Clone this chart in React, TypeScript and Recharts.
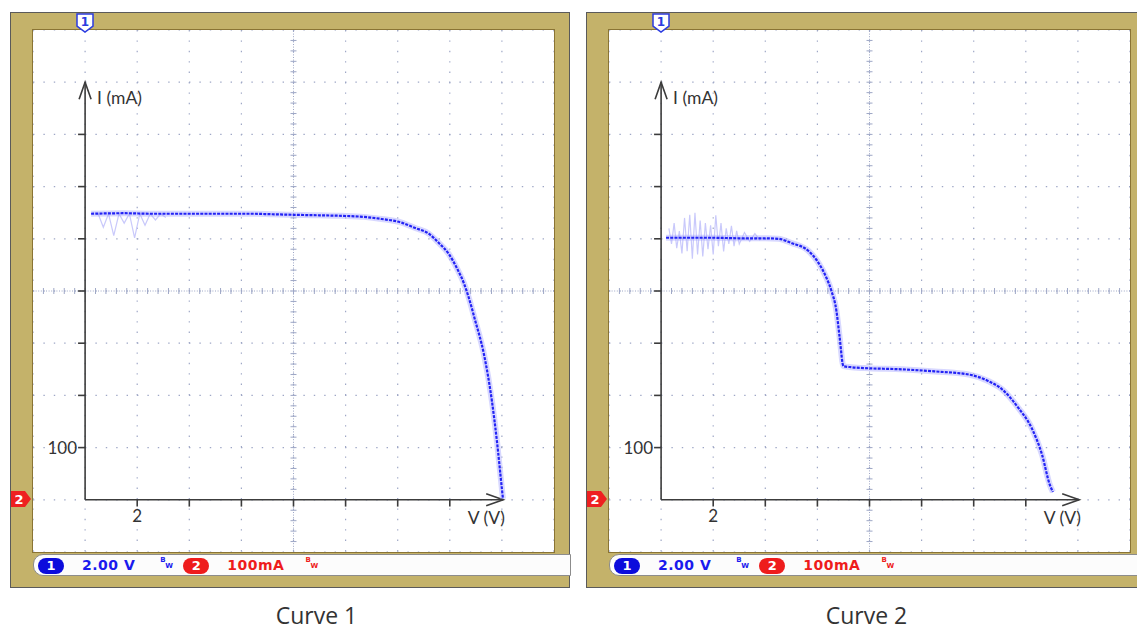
import React from 'react';
import { LineChart, Line, XAxis, YAxis, CartesianGrid, ReferenceLine, ReferenceDot } from 'recharts';

// Curve 1: voltage (V) and current (mA)
const curve1V = [0.23, 1.5, 2.54, 3.5, 4.46, 5.4, 6.38, 7.2, 8.0, 9.0, 9.85, 10.7, 11.38, 12.15, 12.65, 13.19, 13.58, 13.96, 14.27, 14.54, 14.73, 14.96, 15.31, 15.62, 15.81, 16.0, 16.04];
const curve1I = [548, 549, 548, 548, 548, 548, 548, 547, 546, 545, 544, 542, 538, 531, 521, 510, 492, 471, 444, 415, 387, 346, 279, 188, 112, 21, 2];
const noise1V = [0.5, 0.7, 0.9, 1.1, 1.3, 1.5, 1.7, 1.9, 2.1, 2.3, 2.5, 2.7, 2.9, 3.1];
const noise1I = [548, 522, 548, 506, 548, 530, 548, 502, 548, 526, 548, 536, 548, 541];

// Curve 2
const curve2V = [0.19, 1.0, 2.0, 3.0, 4.0, 4.5, 5.0, 5.65, 6.04, 6.35, 6.54, 6.73, 6.85, 7.0, 7.31, 7.96, 9.23, 10.5, 11.81, 12.58, 13.08, 13.73, 14.23, 14.62, 14.92, 15.04];
const curve2I = [502, 502, 502, 501, 501, 500, 492, 477, 454, 425, 400, 362, 313, 256, 254, 252, 250, 246, 240, 227, 212, 175, 137, 87, 29, 15];
const noise2V = [0.3, 0.4, 0.5, 0.6, 0.7, 0.8, 0.9, 1.0, 1.1, 1.2, 1.3, 1.4, 1.5, 1.6, 1.7, 1.8, 1.9, 2.0, 2.1, 2.2, 2.3, 2.4, 2.5, 2.6, 2.7, 2.8, 2.9, 3.0, 3.2, 3.4, 3.6, 3.8];
const noise2I = [520, 490, 530, 482, 515, 472, 540, 476, 546, 462, 550, 470, 535, 466, 530, 480, 526, 470, 545, 486, 530, 476, 520, 490, 525, 486, 515, 490, 512, 495, 510, 497];

// graticule: 2 V/div, 100 mA/div
const gridV = [-2, 0, 2, 4, 6, 8, 10, 12, 14, 16, 18];
const gridI = [-100, 0, 100, 200, 300, 400, 500, 600, 700, 800, 900];
const xTicks = [2, 4, 6, 8, 10, 12, 14];
const yTicks = [100, 200, 300, 400, 500, 600, 700];

const toRows = (vs: number[], is: number[]) => vs.map((v, k) => ({ v, i: is[k] }));

const AXIS = '#3c3c3c';
const DOT = '#9ea7c6';

const ArrowShape = (p: any) => {
  const { x1, y1, x2, y2 } = p;
  const dx = x2 - x1, dy = y2 - y1;
  const len = Math.hypot(dx, dy) || 1;
  const ux = dx / len, uy = dy / len;
  const bx = x2 - ux * 17, by = y2 - uy * 17;
  const px = -uy * 6, py = ux * 6;
  return (
    <g>
      <line x1={x1} y1={y1} x2={x2} y2={y2} stroke={AXIS} strokeWidth={1.6} />
      <polyline points={`${bx + px},${by + py} ${x2},${y2} ${bx - px},${by - py}`} fill="none" stroke={AXIS} strokeWidth={1.6} />
    </g>
  );
};

const CenterLine = (p: any) => {
  const { x1, y1, x2, y2 } = p;
  const vertical = Math.abs(x2 - x1) < 0.5;
  const a = vertical ? Math.min(y1, y2) : Math.min(x1, x2);
  const b = vertical ? Math.max(y1, y2) : Math.max(x1, x2);
  const step = (b - a) / 50;
  const marks = [];
  for (let k = 1; k < 50; k++) {
    const t = a + k * step;
    marks.push(vertical
      ? <line key={k} x1={x1 - 3} x2={x1 + 3} y1={t} y2={t} stroke={DOT} strokeWidth={1} />
      : <line key={k} x1={t} x2={t} y1={y1 - 3} y2={y1 + 3} stroke={DOT} strokeWidth={1} />);
  }
  return (
    <g>
      <line x1={x1} y1={y1} x2={x2} y2={y2} stroke={DOT} strokeWidth={1} strokeDasharray="1 1.6" />
      {marks}
    </g>
  );
};

const BW = ({ color }: { color: string }) => (
  <span style={{ position: 'relative', display: 'inline-block', width: 11, height: 16, color, fontSize: 7, lineHeight: '7px', fontFamily: 'DejaVu Sans', fontWeight: 'bold' }}>
    <span style={{ position: 'absolute', left: 0, top: 2 }}>B</span>
    <span style={{ position: 'absolute', left: 5, top: 8 }}>W</span>
  </span>
);

const Pill = ({ n, fill }: { n: string; fill: string }) => (
  <span style={{ display: 'inline-block', width: 26, height: 16, borderRadius: 8, background: fill, color: '#fff', fontFamily: 'DejaVu Sans', fontWeight: 'bold', fontSize: 13, lineHeight: '16px', textAlign: 'center' }}>{n}</span>
);

type PanelProps = {
  left: number;
  width: number;
  curve: { v: number; i: number }[];
  noise: { v: number; i: number }[];
  caption: string;
  captionCenter: number;
};

const Panel = ({ left, width, curve, noise, caption, captionCenter }: PanelProps) => (
  <>
    <div style={{ position: 'absolute', left, top: 12, width, height: 576, background: '#c4b26a', border: '1.5px solid #5a5a5a', boxSizing: 'border-box' }}>
      <div style={{ position: 'absolute', left: 21, top: 16, width: 523, height: 524, background: '#fff', border: '1px solid #8a7434', boxSizing: 'border-box' }}>
        <LineChart width={521} height={522} margin={{ top: 0, right: 0, bottom: 0, left: 0 }}>
          <XAxis type="number" dataKey="v" domain={[-2, 18]} ticks={gridV} hide allowDataOverflow />
          <YAxis type="number" domain={[-100, 900]} ticks={gridI} hide allowDataOverflow />
          <CartesianGrid stroke={DOT} strokeWidth={1.2} strokeDasharray="1.4 9" />
          <ReferenceLine x={8} shape={CenterLine} />
          <ReferenceLine y={400} shape={CenterLine} />
          <ReferenceLine segment={[{ x: 0, y: 0 }, { x: 0, y: 800 }]} shape={ArrowShape} />
          <ReferenceLine segment={[{ x: 0, y: 0 }, { x: 16.05, y: 0 }]} shape={ArrowShape} />
          {yTicks.map((t) => (
            <ReferenceLine key={`y${t}`} segment={[{ x: 0, y: t }, { x: -0.27, y: t }]} stroke={AXIS} strokeWidth={1.6} />
          ))}
          {xTicks.map((t) => (
            <ReferenceLine key={`x${t}`} segment={[{ x: t, y: 0 }, { x: t, y: -13 }]} stroke={AXIS} strokeWidth={1.6} />
          ))}
          <ReferenceDot x={0} y={770} r={0} label={{ value: 'I (mA)', position: 'right', offset: 12, fill: '#333', fontSize: 17.5, fontFamily: 'Lato' }} />
          <ReferenceDot x={0} y={100} r={0} label={{ value: '100', position: 'left', offset: 8, fill: '#333', fontSize: 17, fontFamily: 'Lato' }} />
          <ReferenceDot x={2} y={0} r={0} label={{ value: '2', position: 'bottom', offset: 10, fill: '#333', fontSize: 17, fontFamily: 'Lato' }} />
          <ReferenceDot x={15.4} y={0} r={0} label={{ value: 'V (V)', position: 'bottom', offset: 12, fill: '#333', fontSize: 17.5, fontFamily: 'Lato' }} />
          <Line data={noise} dataKey="i" type="linear" stroke="#c9c9fb" strokeWidth={1.2} dot={false} isAnimationActive={false} />
          <Line data={curve} dataKey="i" type="monotone" stroke="#a9a9ff" strokeOpacity={0.45} strokeWidth={6} dot={false} isAnimationActive={false} />
          <Line data={curve} dataKey="i" type="monotone" stroke="#2323f5" strokeWidth={2.2} strokeDasharray="3 1.2" dot={false} isAnimationActive={false} />
        </LineChart>
      </div>
      {/* channel 1 marker */}
      <svg style={{ position: 'absolute', left: 64, top: 0 }} width={20} height={21}>
        <path d="M2,1 H18 V13 L10,19 L2,13 Z" fill="#fff" stroke="#2b3be0" strokeWidth={1.5} />
        <text x={10} y={13} textAnchor="middle" fill="#2b3be0" fontSize={12} fontWeight="bold" fontFamily="DejaVu Sans">1</text>
      </svg>
      {/* channel 2 marker */}
      <svg style={{ position: 'absolute', left: -1, top: 476 }} width={24} height={20}>
        <path d="M1,2 H15 L21,10 L15,18 H1 Z" fill="#ee2020" />
        <text x={9} y={15} textAnchor="middle" fill="#fff" fontSize={13} fontWeight="bold" fontFamily="DejaVu Sans">2</text>
      </svg>
      {/* status bar */}
      <div style={{ position: 'absolute', left: 22, top: 541, right: -2, height: 22, background: '#fcfcfc', border: '1px solid #8c8c8c', borderRadius: '10px 0 0 10px', boxSizing: 'border-box', display: 'flex', alignItems: 'center', whiteSpace: 'nowrap' }}>
        <span style={{ marginLeft: 4 }}><Pill n="1" fill="#0c0cdc" /></span>
        <span style={{ marginLeft: 18, color: '#1a1aee', fontFamily: 'DejaVu Sans', fontWeight: 'bold', fontSize: 14, letterSpacing: 0.5 }}>2.00 V</span>
        <span style={{ marginLeft: 25 }}><BW color="#1a1aee" /></span>
        <span style={{ marginLeft: 12 }}><Pill n="2" fill="#ee1c1c" /></span>
        <span style={{ marginLeft: 18, color: '#ee1c1c', fontFamily: 'DejaVu Sans', fontWeight: 'bold', fontSize: 14, letterSpacing: 0.5 }}>100mA</span>
        <span style={{ marginLeft: 21 }}><BW color="#ee1c1c" /></span>
      </div>
    </div>
    <div style={{ position: 'absolute', left: captionCenter - 100, top: 599, width: 200, textAlign: 'center', fontFamily: 'Open Sans', fontSize: 23, color: '#333' }}>{caption}</div>
  </>
);

export default function App() {
  return (
    <div style={{ position: 'absolute', left: 0, top: 0, width: 1137, height: 631, background: '#fff', overflow: 'hidden' }}>
      <Panel left={10} width={560} curve={toRows(curve1V, curve1I)} noise={toRows(noise1V, noise1I)} caption="Curve 1" captionCenter={316.5} />
      <Panel left={586} width={560} curve={toRows(curve2V, curve2I)} noise={toRows(noise2V, noise2I)} caption="Curve 2" captionCenter={866.5} />
    </div>
  );
}
